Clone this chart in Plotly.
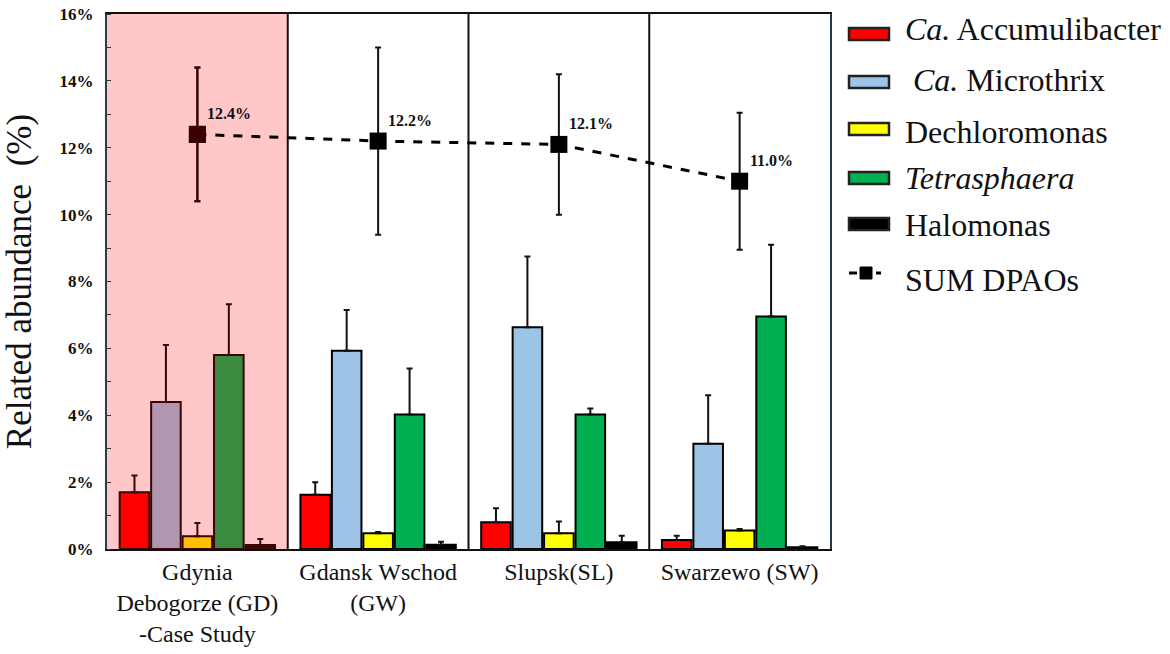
import plotly.graph_objects as go

sites = ["Gdynia<br>Debogorze (GD)<br>-Case Study", "Gdansk Wschod<br>(GW)", "Slupsk(SL)", "Swarzewo (SW)"]

accumulibacter = [1.70, 1.62, 0.80, 0.27]
accumulibacter_err = [0.50, 0.38, 0.42, 0.13]
microthrix = [4.40, 5.93, 6.63, 3.15]
microthrix_err = [1.70, 1.22, 2.12, 1.45]
dechloromonas = [0.38, 0.47, 0.47, 0.55]
dechloromonas_err = [0.40, 0.04, 0.35, 0.05]
tetrasphaera = [5.80, 4.02, 4.02, 6.95]
tetrasphaera_err = [1.52, 1.38, 0.18, 2.15]
halomonas = [0.12, 0.13, 0.20, 0.05]
halomonas_err = [0.18, 0.09, 0.20, 0.03]
sum_dpaos = [12.4, 12.2, 12.1, 11.0]
sum_err = [2.0, 2.8, 2.1, 2.05]
sum_labels = ["12.4%", "12.2%", "12.1%", "11.0%"]

y_ticks = [0, 2, 4, 6, 8, 10, 12, 14, 16]
y_ticktext = ["0%", "2%", "4%", "6%", "8%", "10%", "12%", "14%", "16%"]

SERIF = "Liberation Serif"
case_outline = "#3a0505"

series = [
    ("<i>Ca.</i> Accumulibacter", accumulibacter, accumulibacter_err, "#FF0000", "#FF0000"),
    ("\u00a0<i>Ca.</i> Microthrix", microthrix, microthrix_err, "#9DC3E6", "#B096B0"),
    ("Dechloromonas", dechloromonas, dechloromonas_err, "#FFFF00", "#FFC000"),
    ("<i>Tetrasphaera</i>", tetrasphaera, tetrasphaera_err, "#00B050", "#3A8A3F"),
    ("Halomonas", halomonas, halomonas_err, "#000000", "#3a0505"),
]
sum_name = "SUM DPAOs"

fig = go.Figure()
for i, (name, vals, errs, col, case_col) in enumerate(series):
    fig.add_trace(go.Bar(
        x=sites[:1], y=vals[:1], name=name, offsetgroup=str(i), showlegend=False,
        marker=dict(color=case_col, line=dict(color=case_outline, width=2)),
        error_y=dict(type="data", array=errs[:1], arrayminus=[0],
                     symmetric=False, color=case_outline, thickness=2, width=3),
    ))
    fig.add_trace(go.Bar(
        x=sites[1:], y=vals[1:], name=name, offsetgroup=str(i), showlegend=False,
        marker=dict(color=col, line=dict(color="#000000", width=2)),
        error_y=dict(type="data", array=errs[1:], arrayminus=[0] * (len(errs) - 1),
                     symmetric=False, color="#111111", thickness=2, width=3),
    ))

fig.add_trace(go.Scatter(
    x=sites, y=sum_dpaos, name=sum_name, showlegend=False,
    mode="lines+markers",
    line=dict(color="#000000", width=3, dash="dash"),
    marker=dict(symbol="square", size=17, color="#000000"),
    error_y=dict(type="data", array=sum_err, color="#111111", thickness=2, width=3),
))
fig.add_trace(go.Scatter(
    x=sites[:1], y=sum_dpaos[:1], name=sum_name, showlegend=False,
    mode="markers",
    marker=dict(symbol="square", size=17, color="#3a0000"),
    error_y=dict(type="data", array=sum_err[:1], color="#3a0000", thickness=2, width=3),
))

for s, v, t in zip(sites, sum_dpaos, sum_labels):
    fig.add_annotation(x=s, y=v, text=f"<b>{t}</b>", showarrow=False,
                       xanchor="left", yanchor="middle", xshift=8, yshift=21,
                       font=dict(family=SERIF, size=16, color="#111"))

# case study background and separators
fig.add_shape(type="rect", xref="x", yref="paper", x0=-0.5, x1=0.5, y0=0, y1=1,
              fillcolor="#FFC7C8", line=dict(width=0), layer="below")
for xb in [0.5, 1.5, 2.5]:
    fig.add_shape(type="line", xref="x", yref="paper", x0=xb, x1=xb, y0=0, y1=1,
                  line=dict(color="#111", width=2), layer="below")

# manual legend (paper coordinates)
PL, PW, PB, PH = 107, 723, 549, 535
def px(x):
    return (x - PL) / PW
def py(y):
    return (PB - y) / PH

sym_y = [34, 82, 129, 178, 224, 273]
txt_y = [29, 80, 132, 178, 225, 280]
for k, (name, vals, errs, col, case_col) in enumerate(series):
    yc = sym_y[k]
    fig.add_shape(type="rect", xref="paper", yref="paper",
                  x0=px(849), x1=px(889), y0=py(yc + 6), y1=py(yc - 6),
                  fillcolor=col, line=dict(color="#222", width=2.5))
    fig.add_annotation(xref="paper", yref="paper", x=px(903), y=py(txt_y[k]), text=name,
                       showarrow=False, xanchor="left", yanchor="middle",
                       font=dict(family=SERIF, size=32, color="#111"))
yc = sym_y[5]
for a, b in [(849, 857), (876, 881)]:
    fig.add_shape(type="line", xref="paper", yref="paper",
                  x0=px(a), x1=px(b), y0=py(yc), y1=py(yc),
                  line=dict(color="#000", width=3))
fig.add_shape(type="rect", xref="paper", yref="paper",
              x0=px(860), x1=px(872), y0=py(yc + 6), y1=py(yc - 6),
              fillcolor="#000", line=dict(color="#000", width=1))
fig.add_annotation(xref="paper", yref="paper", x=px(903), y=py(txt_y[5]), text=sum_name,
                   showarrow=False, xanchor="left", yanchor="middle",
                   font=dict(family=SERIF, size=32, color="#111"))

fig.update_layout(
    width=1170, height=654,
    margin=dict(l=107, r=340, t=14, b=105),
    paper_bgcolor="white", plot_bgcolor="white",
    barmode="group", bargap=0.13, bargroupgap=0.06,
    font=dict(family=SERIF, color="#111"),
    showlegend=False,
)
fig.update_xaxes(
    categoryorder="array", categoryarray=sites, automargin=False,
    range=[-0.5, 3.5], showline=True, linecolor="#111", linewidth=2, mirror=True,
    ticks="", tickfont=dict(family=SERIF, size=24, color="#111"), showgrid=False,
)
fig.update_yaxes(
    range=[0, 16], tickvals=y_ticks, ticktext=y_ticktext, automargin=False,
    tickfont=dict(family=SERIF, size=17, color="#111", weight="bold"),
    ticklabelstandoff=8,
    showline=True, linecolor="#2a3a4a", linewidth=2, mirror=True, showgrid=False,
    ticks="", minor=dict(ticks="inside", dtick=1, ticklen=4, tickcolor="#333"),
    title=dict(text="Related abundance\u00a0 (%)", font=dict(family=SERIF, size=35, color="#111"), standoff=18),
    zeroline=False,
)

fig.write_html("out.html")
